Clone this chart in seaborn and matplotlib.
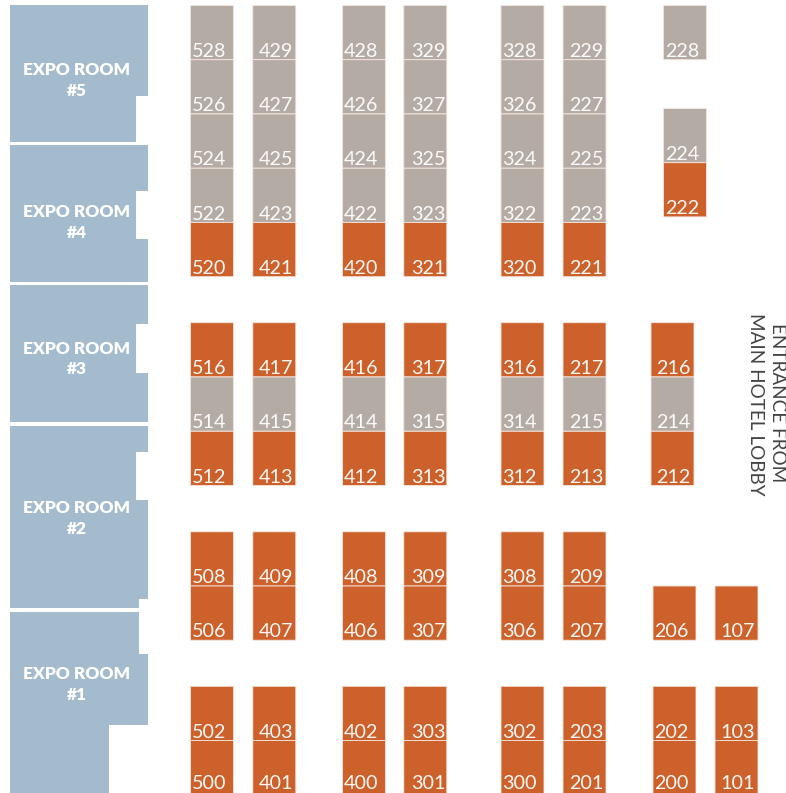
import matplotlib
matplotlib.use("Agg")
import matplotlib.pyplot as plt
import seaborn as sns

# ---- data: booth numbers by aisle column, top to bottom ----
col_a = ["528", "526", "524", "522", "520", "516", "514", "512", "508", "506", "502", "500"]
col_b = ["429", "427", "425", "423", "421", "417", "415", "413", "409", "407", "403", "401"]
col_c = ["428", "426", "424", "422", "420", "416", "414", "412", "408", "406", "402", "400"]
col_d = ["329", "327", "325", "323", "321", "317", "315", "313", "309", "307", "303", "301"]
col_e = ["328", "326", "324", "322", "320", "316", "314", "312", "308", "306", "302", "300"]
col_f = ["229", "227", "225", "223", "221", "217", "215", "213", "209", "207", "203", "201"]
col_g = ["228", "224", "222"]
col_h = ["216", "214", "212"]
col_i = ["206", "202", "200"]
col_j = ["107", "103", "101"]

# booths shown in taupe; every other booth is orange
taupe_booths = ["528", "526", "524", "522", "429", "427", "425", "423",
                "428", "426", "424", "422", "329", "327", "325", "323",
                "328", "326", "324", "322", "229", "227", "225", "223",
                "228", "224", "514", "415", "414", "315", "314", "215", "214"]

room_names = ["EXPO ROOM\n#5", "EXPO ROOM\n#4", "EXPO ROOM\n#3", "EXPO ROOM\n#2", "EXPO ROOM\n#1"]
entrance_lines = ["ENTRANCE FROM", "MAIN HOTEL LOBBY"]

# ---- layout ----
ROW_TOPS = [5.5, 59.7, 114, 168.2, 222.5, 322.7, 377, 431.3, 531.8, 586, 686.3, 740.5]
ROW_H = 54.2
BOOTH_W = 43
TOPS_G = [5.5, 108.5, 162.7]
TOPS_H = [322.7, 377, 431.3]
TOPS_I = [586, 686.3, 740.5]
BASELINE_LIMIT = 789
columns = [
    (col_a, 190.5, 209, ROW_TOPS),
    (col_b, 252.8, 276, ROW_TOPS),
    (col_c, 342.5, 361, ROW_TOPS),
    (col_d, 403.8, 428, ROW_TOPS),
    (col_e, 501, 519.5, ROW_TOPS),
    (col_f, 563, 586, ROW_TOPS),
    (col_g, 663.5, 682, TOPS_G),
    (col_h, 651, 673, TOPS_H),
    (col_i, 653, 671.5, TOPS_I),
    (col_j, 715, 738, TOPS_I),
]
rooms = [
    [(10, 5), (147.5, 5), (147.5, 96), (135.5, 96), (135.5, 142), (10, 142)],
    [(10, 145), (147.5, 145), (147.5, 191), (135.5, 191), (135.5, 239), (147.5, 239), (147.5, 282), (10, 282)],
    [(10, 285), (147.5, 285), (147.5, 324), (135.5, 324), (135.5, 372.5), (147.5, 372.5), (147.5, 422), (10, 422)],
    [(10, 425.5), (147.5, 425.5), (147.5, 451.5), (135.5, 451.5), (135.5, 499.5), (147.5, 499.5), (147.5, 599), (139, 599), (139, 608), (10, 608)],
    [(10, 611.5), (139, 611.5), (139, 654), (147.5, 654), (147.5, 725), (109, 725), (109, 793), (10, 793)],
]
room_label_y = [80.5, 222.5, 359, 518.5, 684.5]

ORANGE = "#CD612C"
TAUPE = "#B5ABA5"
BLUE = "#A4BBCE"

sns.set_theme(style="white")
plt.rcParams["font.family"] = ["Lato", "DejaVu Sans"]

fig = plt.figure(figsize=(7.86, 7.93), dpi=100)
ax = fig.add_axes([0, 0, 1, 1])
ax.set_xlim(0, 786)
ax.set_ylim(793, 0)
ax.axis("off")

for pts, name, y in zip(rooms, room_names, room_label_y):
    ax.fill(*zip(*pts), color=BLUE, lw=0)
    ax.text(77, y, name, color="white", fontsize=12.4, fontweight="heavy",
            ha="center", va="center", linespacing=1.35)

for labels, left, tx, tops in columns:
    for label, top in zip(labels, tops):
        c = TAUPE if label in taupe_booths else ORANGE
        bars = ax.bar(left, ROW_H, width=BOOTH_W, bottom=top, align="edge", color=c,
                      edgecolor="#F5E6DE", linewidth=0.6)
        for b in bars:
            b.set_snap(False)
        ax.text(tx, min(top + ROW_H - 2.8, BASELINE_LIMIT), label, color="white",
                fontsize=14.2, ha="center", va="baseline", alpha=0.95)

for x, y, line in zip([777, 755.5], [403, 404.5], entrance_lines):
    ax.text(x, y, line, color="#444444", fontsize=13.6, rotation=270,
            ha="center", va="center")

fig.savefig("out.png", dpi=100)
